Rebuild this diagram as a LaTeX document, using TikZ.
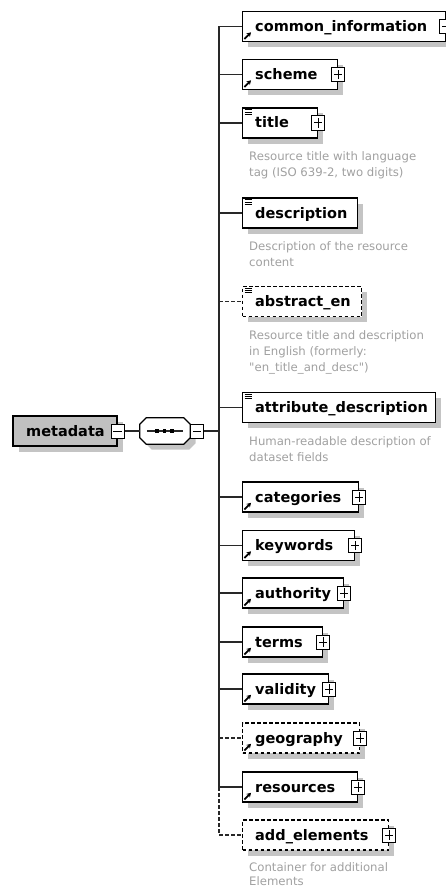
\documentclass[tikz,border=0pt]{standalone}
\usepackage{fontspec}
\setmainfont{DejaVu Sans}
\usetikzlibrary{shadows,arrows.meta}
\definecolor{shade}{RGB}{196,196,196}
\definecolor{mfill}{RGB}{192,192,192}
\definecolor{desc}{RGB}{160,160,160}
\definecolor{conn}{RGB}{40,40,40}
\newcommand\docicon[1]{\foreach \d in {2.5,4.6,6.7} \draw[line width=0.8pt] ([xshift=2.5pt,yshift=-\d pt]#1.north west) -- ++(7pt,0pt);}
\newcommand\refarrow[1]{\draw[line width=1.8pt,-{Stealth[length=4.2pt,width=5pt]}] ([xshift=2.4pt,yshift=3.2pt]#1.south west) -- ++(6.6pt,6.6pt);}
\begin{document}
\begin{tikzpicture}[x=1pt,y=-1pt,
  shad/.style={drop shadow={shadow xshift=5.5pt,shadow yshift=-5.5pt,fill=shade,opacity=1}},
  elem/.style={draw=black,line width=1.25pt,fill=white,minimum height=30pt,inner sep=0,anchor=west,shad},
  opt/.style={dash pattern=on 3.5pt off 2.5pt},
  cn/.style={draw=conn,line width=1.2pt},
  lbl/.style={font=\fontsize{14.5}{16}\selectfont\bfseries,anchor=base west,inner sep=0},
  note/.style={font=\fontsize{11.7}{14}\selectfont,text=desc,anchor=base west,inner sep=0},
  pm/.style={draw=black,fill=white,line width=1pt,minimum width=13pt,minimum height=14pt,inner sep=0},
  plusbox/.style={pm,path picture={\draw[line width=1pt]
     ([xshift=-4.2pt]path picture bounding box.center) -- ([xshift=4.2pt]path picture bounding box.center)
     ([yshift=-4.6pt]path picture bounding box.center) -- ([yshift=4.6pt]path picture bounding box.center);}},
  minusbox/.style={pm,path picture={\draw[line width=1pt]
     ([xshift=-4.2pt]path picture bounding box.center) -- ([xshift=4.2pt]path picture bounding box.center);}}
]
\useasboundingbox (0,0) rectangle (446,888);

% root element
\node[elem,fill=mfill,minimum width=104pt,anchor=center] (md) at (65,431) {};
\node[lbl] (mdL) at (26,436) {metadata};
\node[minusbox] (mdM) at (md.east) {};

% sequence compositor
\node[minimum width=50pt,minimum height=26pt,inner sep=0] (seq) at (165,431) {};
\draw[draw=black,line width=1.25pt,fill=white,shad]
  ([xshift=6.5pt]seq.north west) -- ([xshift=-6.5pt]seq.north east) -- ([yshift=-6.5pt]seq.north east)
  -- ([yshift=6.5pt]seq.south east) -- ([xshift=-6.5pt]seq.south east) -- ([xshift=6.5pt]seq.south west)
  -- ([yshift=6.5pt]seq.south west) -- ([yshift=-6.5pt]seq.north west) -- cycle;
\draw[cn] ([xshift=7pt]seq.west) -- ([xshift=-7pt]seq.east);
\foreach \dx in {-8,-0.5,7}
  \fill[black] ([xshift=\dx pt-1.8pt,yshift=-1.8pt]seq.center) rectangle ++(3.6pt,3.6pt);
\node[minusbox,anchor=west] (seqM) at (seq.east) {};
\draw[cn] (mdM.east) -- (seq.west);
\coordinate (bus) at (219,431);
\draw[cn] (seqM.east) -- (bus);

% children
\node[elem,minimum width=203pt] (ci) at (242,26.5) {};
\node[lbl] (ciL) at (255,31.5) {common\_information};
\node[plusbox] (ciP) at (ci.east) {};
\refarrow{ci}

\node[elem,minimum width=95pt] (sc) at (242,74.5) {};
\node[lbl] (scL) at (255,79.5) {scheme};
\node[plusbox] (scP) at (sc.east) {};
\refarrow{sc}

\node[elem,minimum width=75pt] (ti) at (242,123) {};
\node[lbl] (tiL) at (255,128) {title};
\node[plusbox] (tiP) at (ti.east) {};
\docicon{ti}
\node[note] (tiN1) at (249,160) {Resource title with language};
\node[note] (tiN2) at (249,176) {tag (ISO 639-2, two digits)};

\node[elem,minimum width=115pt] (de) at (242,213) {};
\node[lbl] (deL) at (255,218) {description};
\docicon{de}
\node[note] (deN1) at (249,250) {Description of the resource};
\node[note] (deN2) at (249,266) {content};

\node[elem,opt,minimum width=119pt] (ab) at (242,301.5) {};
\node[lbl] (abL) at (255,306.5) {abstract\_en};
\docicon{ab}
\node[note] (abN1) at (249,339.5) {Resource title and description};
\node[note] (abN2) at (249,355.5) {in English (formerly:};
\node[note] (abN3) at (249,371) {\textquotedbl en\_title\_and\_desc\textquotedbl)};

\node[elem,minimum width=193pt] (at) at (242,407.5) {};
\node[lbl] (atL) at (255,412.5) {attribute\_description};
\docicon{at}
\node[note] (atN1) at (249,445) {Human-readable description of};
\node[note] (atN2) at (249,461) {dataset fields};

\node[elem,minimum width=116pt] (ca) at (242,497) {};
\node[lbl] (caL) at (255,502) {categories};
\node[plusbox] (caP) at (ca.east) {};
\refarrow{ca}

\node[elem,minimum width=112pt] (kw) at (242,545.5) {};
\node[lbl] (kwL) at (255,550.5) {keywords};
\node[plusbox] (kwP) at (kw.east) {};
\refarrow{kw}

\node[elem,minimum width=101pt] (au) at (242,593) {};
\node[lbl] (auL) at (255,598) {authority};
\node[plusbox] (auP) at (au.east) {};
\refarrow{au}

\node[elem,minimum width=80pt] (te) at (242,642) {};
\node[lbl] (teL) at (255,647) {terms};
\node[plusbox] (teP) at (te.east) {};
\refarrow{te}

\node[elem,minimum width=86pt] (va) at (242,689) {};
\node[lbl] (vaL) at (255,694) {validity};
\node[plusbox] (vaP) at (va.east) {};
\refarrow{va}

\node[elem,opt,minimum width=117pt] (ge) at (242,738) {};
\node[lbl] (geL) at (255,743) {geography};
\node[plusbox] (geP) at (ge.east) {};
\refarrow{ge}

\node[elem,minimum width=115pt] (re) at (242,787) {};
\node[lbl] (reL) at (255,792) {resources};
\node[plusbox] (reP) at (re.east) {};
\refarrow{re}

\node[elem,opt,minimum width=146pt] (ad) at (242,835) {};
\node[lbl] (adL) at (255,840) {add\_elements};
\node[plusbox] (adP) at (ad.east) {};
\node[note] (adN1) at (249,871) {Container for additional};
\node[note] (adN2) at (249,885.5) {Elements};

% bus lines
\draw[cn] (bus |- ci.west) -- (bus |- re.west);
\draw[cn,opt] (bus |- re.west) |- (ad.west);
\foreach \n in {ci,sc,ti,de,at,ca,kw,au,te,va,re}
  \draw[cn] (bus |- \n.west) -- (\n.west);
\foreach \n in {ab,ge}
  \draw[cn,opt] (bus |- \n.west) -- (\n.west);
\end{tikzpicture}
\end{document}
